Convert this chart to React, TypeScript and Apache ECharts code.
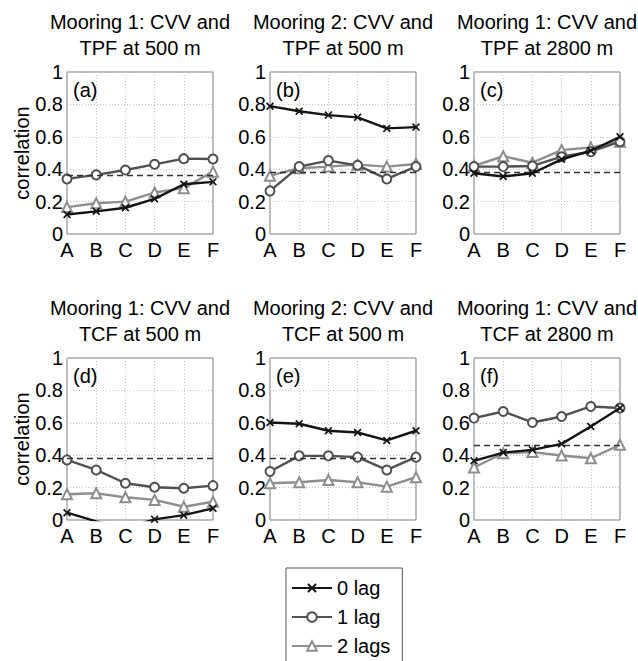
import React, { useEffect, useRef } from "react";
import * as echarts from "echarts";

const categories = ["A", "B", "C", "D", "E", "F"];
const seriesNames = ["0 lag", "1 lag", "2 lags"];
const panelLabels = ["(a)", "(b)", "(c)", "(d)", "(e)", "(f)"];
const titles = [
  "Mooring 1: CVV and\nTPF at 500 m",
  "Mooring 2: CVV and\nTPF at 500 m",
  "Mooring 1: CVV and\nTPF at 2800 m",
  "Mooring 1: CVV and\nTCF at 500 m",
  "Mooring 2: CVV and\nTCF at 500 m",
  "Mooring 1: CVV and\nTCF at 2800 m",
];
const yTicks = [0, 0.2, 0.4, 0.6, 0.8, 1];

// panel (a)
const a0 = [0.12, 0.14, 0.162, 0.217, 0.307, 0.322];
const a1 = [0.34, 0.365, 0.395, 0.43, 0.465, 0.463];
const a2 = [0.166, 0.19, 0.2, 0.256, 0.283, 0.385];
// panel (b)
const b0 = [0.789, 0.758, 0.734, 0.72, 0.652, 0.66];
const b1 = [0.266, 0.416, 0.453, 0.424, 0.34, 0.416];
const b2 = [0.36, 0.406, 0.416, 0.428, 0.416, 0.432];
// panel (c)
const c0 = [0.375, 0.355, 0.375, 0.461, 0.514, 0.6];
const c1 = [0.416, 0.416, 0.42, 0.477, 0.508, 0.57];
const c2 = [0.42, 0.48, 0.44, 0.518, 0.535, 0.57];
// panel (d)
const d0 = [0.045, -0.008, -0.05, 0.004, 0.03, 0.072];
const d1 = [0.371, 0.309, 0.227, 0.202, 0.196, 0.212];
const d2 = [0.159, 0.165, 0.14, 0.124, 0.082, 0.113];
// panel (e)
const e0 = [0.602, 0.594, 0.551, 0.54, 0.491, 0.551];
const e1 = [0.299, 0.396, 0.396, 0.388, 0.309, 0.388];
const e2 = [0.227, 0.233, 0.247, 0.233, 0.206, 0.264];
// panel (f)
const f0 = [0.365, 0.416, 0.433, 0.47, 0.577, 0.691];
const f1 = [0.629, 0.67, 0.602, 0.639, 0.701, 0.691];
const f2 = [0.324, 0.412, 0.419, 0.398, 0.381, 0.464];

// significance levels (dashed lines)
const thresholds = [0.365, 0.379, 0.379, 0.379, 0.379, 0.46];

const panelData = [
  [a0, a1, a2],
  [b0, b1, b2],
  [c0, c1, c2],
  [d0, d1, d2],
  [e0, e1, e2],
  [f0, f1, f2],
];

const FONT = "Liberation Sans, Arial, Helvetica, sans-serif";
const colors = ["#141414", "#505050", "#8e8e8e"];
const crossPath =
  "path://M0,1.5L1.5,0L5,3.5L8.5,0L10,1.5L6.5,5L10,8.5L8.5,10L5,6.5L1.5,10L0,8.5L3.5,5Z";
const symbols = [crossPath, "emptyCircle", "emptyTriangle"];
const symbolSizes = [8, 9, 10];

const lefts = [67, 270, 474];
const tops = [72, 358];
const W = 146;
const H = 162;

export default function App() {
  const ref = useRef<HTMLDivElement>(null);
  useEffect(() => {
    document.body.style.margin = "0";
    const chart = echarts.init(ref.current!, null, { renderer: "svg" });
    const grids: any[] = [];
    const xAxes: any[] = [];
    const yAxes: any[] = [];
    const series: any[] = [];
    const title: any[] = [];
    const graphic: any[] = [];
    panelData.forEach((vals, i) => {
      const col = i % 3;
      const row = Math.floor(i / 3);
      const left = lefts[col];
      const top = tops[row];
      grids.push({
        left,
        top,
        width: W,
        height: H,
        show: true,
        borderColor: "#7a7a7a",
        borderWidth: 1,
        backgroundColor: "#fff",
      });
      xAxes.push({
        type: "category",
        gridIndex: i,
        data: categories,
        boundaryGap: false,
        axisLine: { show: false },
        axisTick: { show: false },
        axisLabel: { color: "#000", fontSize: 20, fontFamily: FONT, margin: 6 },
        splitLine: { show: true, lineStyle: { color: "#c4c4c4", type: [1, 2], width: 1 } },
      });
      yAxes.push({
        type: "value",
        gridIndex: i,
        min: 0,
        max: 1,
        interval: 0.2,
        axisLine: { show: false },
        axisTick: { show: false },
        axisLabel: {
          color: "#000",
          fontSize: 20,
          fontFamily: FONT,
          margin: 4,
          formatter: (v: number) => {
            const t = yTicks.find((y) => Math.abs(y - v) < 1e-6);
            return t === undefined ? "" : String(t);
          },
        },
        splitLine: { show: true, lineStyle: { color: "#c4c4c4", type: [1, 2], width: 1 } },
      });
      vals.forEach((arr, k) => {
        const s: any = {
          type: "line",
          name: seriesNames[k],
          xAxisIndex: i,
          yAxisIndex: i,
          data: arr,
          clip: true,
          symbol: symbols[k],
          symbolSize: symbolSizes[k],
          showAllSymbol: true,
          lineStyle: { color: colors[k], width: 2.4 },
          itemStyle:
            k === 0
              ? { color: colors[k] }
              : { color: colors[k], borderColor: colors[k], borderWidth: 2 },
          z: 3 - k + 2,
        };
        if (k === 0) {
          s.markLine = {
            silent: true,
            symbol: "none",
            label: { show: false },
            lineStyle: { color: "#333", type: [6, 4], width: 1.3 },
            data: [{ yAxis: thresholds[i] }],
          };
        }
        series.push(s);
      });
      title.push({
        text: titles[i],
        left: left + W / 2,
        top: top - 63,
        textAlign: "center",
        padding: 0,
        textStyle: {
          fontSize: 20,
          fontWeight: "normal",
          color: "#000",
          fontFamily: FONT,
          lineHeight: 26,
        },
      });
      graphic.push({
        type: "text",
        x: left + 6,
        y: top + 18,
        z: 10,
        style: {
          text: panelLabels[i],
          fontSize: 20,
          fontFamily: FONT,
          fill: "#000",
          align: "left",
          verticalAlign: "middle",
        },
      });
    });
    tops.forEach((top) => {
      graphic.push({
        type: "text",
        x: 22,
        y: top + H / 2,
        rotation: Math.PI / 2,
        style: {
          text: "correlation",
          fontSize: 20,
          fontFamily: FONT,
          fill: "#000",
          align: "center",
          verticalAlign: "middle",
        },
      });
    });
    chart.setOption({
      animation: false,
      backgroundColor: "#fff",
      title,
      grid: grids,
      xAxis: xAxes,
      yAxis: yAxes,
      series,
      graphic,
      legend: {
        orient: "vertical",
        left: 286,
        top: 568,
        height: 200,
        data: seriesNames,
        itemWidth: 40,
        itemHeight: 12,
        itemGap: 9,
        padding: [10, 12, 10, 5],
        borderColor: "#555",
        borderWidth: 1,
        selectedMode: false,
        textStyle: { fontSize: 20, color: "#000", fontFamily: FONT },
      },
    });
    return () => chart.dispose();
  }, []);
  return <div ref={ref} style={{ width: 638, height: 661 }} />;
}
